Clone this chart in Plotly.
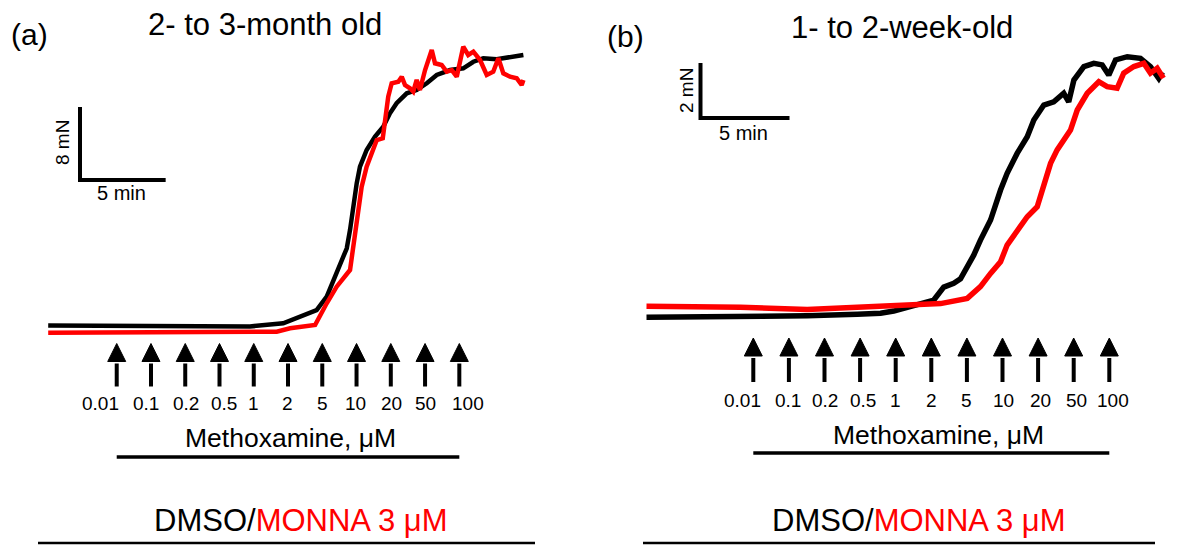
import plotly.graph_objects as go

W, H = 1179, 545

# ---------------- data ----------------
# Panel (a): 2- to 3-month old ; time in min, force in mN
A_TIME_BLACK = [0.0, 4.0, 8.0, 11.78, 13.72, 14.70, 15.67, 16.26, 16.84, 17.43, 17.62, 17.81, 18.01, 18.20,
                18.59, 19.08, 19.56, 19.95, 20.34, 20.93, 21.51, 22.10, 22.68, 23.46, 24.23, 24.82, 25.40,
                26.18, 26.96, 27.74]
A_FORCE_BLACK = [0.05, 0.0, 0.0, -0.05, 0.30, 1.02, 1.75, 3.21, 5.78, 8.52, 10.52, 13.45, 15.64, 17.46,
                 19.29, 20.75, 21.84, 23.31, 24.41, 25.50, 25.86, 26.60, 27.51, 28.05, 28.24, 28.96, 29.34,
                 29.23, 29.51, 29.70]
A_TIME_RED = [0.0, 4.0, 8.0, 11.78, 13.34, 14.12, 15.58, 16.26, 16.84, 17.62, 17.81, 18.01, 18.30, 18.59,
              18.88, 19.18, 19.53, 19.66, 19.85, 20.05, 20.44, 20.64, 20.83, 21.12, 21.31, 21.51, 21.70,
              22.00, 22.39, 22.58, 22.97, 23.26, 23.56, 23.85, 24.23, 24.52, 24.82, 25.21, 25.60, 25.98,
              26.28, 26.57, 26.96, 27.35, 27.64, 27.74]
A_FORCE_RED = [-0.75, -0.72, -0.70, -0.62, -0.62, -0.25, 0.11, 2.49, 4.31, 6.14, 8.69, 11.98, 15.27, 17.46,
               18.93, 20.38, 20.57, 22.21, 25.13, 26.60, 26.77, 27.32, 26.41, 26.05, 25.68, 26.96, 25.86,
               28.05, 30.25, 28.79, 28.60, 27.87, 28.05, 27.32, 30.61, 29.70, 30.06, 29.15, 27.51, 27.87,
               29.34, 27.69, 27.32, 27.15, 26.41, 26.96]
A_ADD_TIMES = [4, 6, 8, 10, 12, 14, 16, 18, 20, 22, 24]

# Panel (b): 1- to 2-week-old
B_TIME_BLACK = [0.0, 3.03, 5.28, 9.03, 11.84, 13.15, 13.89, 15.58, 16.14, 16.70, 17.26, 17.64, 18.02, 18.39,
                18.76, 19.33, 19.89, 20.26, 20.83, 21.39, 21.76, 22.32, 22.88, 23.44, 23.72, 24.01, 24.57,
                25.13, 25.60, 25.97, 26.35, 27.01, 27.75, 28.31, 28.78, 28.99]
B_FORCE_BLACK = [-0.05, -0.04, -0.03, 0.01, 0.06, 0.10, 0.18, 0.46, 0.58, 1.05, 1.19, 1.35, 1.78, 2.22,
                 2.76, 3.49, 4.58, 5.19, 5.92, 6.52, 7.13, 7.67, 7.79, 8.10, 7.79, 8.58, 9.07,
                 9.19, 9.13, 8.76, 9.31, 9.43, 9.37, 9.07, 8.64, 8.87]
B_TIME_RED = [0.0, 3.03, 5.28, 9.03, 12.77, 15.58, 16.52, 18.02, 18.76, 19.33, 19.89, 20.26, 20.83, 21.39,
              21.95, 22.32, 22.70, 23.07, 23.44, 23.82, 24.20, 24.76, 25.41, 25.88, 26.44, 26.81, 27.38,
              27.94, 28.31, 28.69, 29.04]
B_FORCE_RED = [0.35, 0.33, 0.32, 0.24, 0.34, 0.42, 0.45, 0.64, 1.07, 1.55, 1.97, 2.58, 3.13, 3.61,
               3.97, 4.70, 5.55, 6.04, 6.40, 6.76, 7.49, 8.10, 8.52, 8.34, 8.28, 8.83, 9.07,
               9.19, 8.83, 9.01, 8.65]
B_ADD_TIMES = [6, 8, 10, 12, 14, 16, 18, 20, 22, 24, 26]

CONCENTRATIONS = ["0.01", "0.1", "0.2", "0.5", "1", "2", "5", "10", "20", "50", "100"]
SCALE_A = (5, 8)   # min, mN
SCALE_B = (5, 2)   # min, mN
TITLE_A = "2- to 3-month old"
TITLE_B = "1- to 2-week-old"

# ---------------- layout geometry ----------------
FONT = "Arial, Liberation Sans, sans-serif"
BLACK, RED = "#000000", "#ff0000"

# pixel mapping of each panel (x0 px of t=0, px per min, y px of F=0, px per mN)
PA = dict(x0=48.2, kx=17.13, y0=326.0, ky=9.125, px_lo=0, px_hi=589.5)
PB = dict(x0=646.5, kx=17.8, y0=316.0, ky=27.5, px_lo=589.5, px_hi=1179)


def t_of(p, px):
    return (px - p["x0"]) / p["kx"]


def f_of(p, py):
    return (p["y0"] - py) / p["ky"]


fig = go.Figure()


def add_panel(p, xa, ya, tb, fb, tr, fr, adds, scale, lw, corner_px, arrow_px, label_y, lab_off,
              line_y):
    # traces
    fig.add_trace(go.Scatter(x=tb, y=fb, mode="lines", line=dict(color=BLACK, width=lw),
                             xaxis=xa, yaxis=ya, hoverinfo="skip"))
    fig.add_trace(go.Scatter(x=tr, y=fr, mode="lines", line=dict(color=RED, width=lw),
                             xaxis=xa, yaxis=ya, hoverinfo="skip"))
    # arrows
    top, base, bot = arrow_px
    hw = 9.0 / p["kx"]
    sx, sy, hx, hy = [], [], [], []
    for t in adds:
        sx += [t, t, None]
        sy += [f_of(p, bot), f_of(p, base + 2), None]
        hx += [t - hw, t + hw, t, t - hw, None]
        hy += [f_of(p, base), f_of(p, base), f_of(p, top), f_of(p, base), None]
    fig.add_trace(go.Scatter(x=sx, y=sy, mode="lines", line=dict(color=BLACK, width=4),
                             xaxis=xa, yaxis=ya, hoverinfo="skip"))
    fig.add_trace(go.Scatter(x=hx, y=hy, mode="lines", fill="toself", fillcolor=BLACK,
                             line=dict(color=BLACK, width=1), xaxis=xa, yaxis=ya, hoverinfo="skip"))
    # underline below "Methoxamine"
    fig.add_trace(go.Scatter(x=[adds[0], adds[-1]], y=[f_of(p, line_y)] * 2, mode="lines",
                             line=dict(color=BLACK, width=3.5), xaxis=xa, yaxis=ya, hoverinfo="skip"))
    # scale bar
    cx, cy = t_of(p, corner_px[0]), f_of(p, corner_px[1])
    fig.add_trace(go.Scatter(x=[cx, cx, cx + scale[0]], y=[cy + scale[1], cy, cy], mode="lines",
                             line=dict(color=BLACK, width=4), xaxis=xa, yaxis=ya, hoverinfo="skip"))
    # concentration labels
    for t, lab, off in zip(adds, CONCENTRATIONS, lab_off):
        fig.add_annotation(x=t, y=f_of(p, label_y), xref=xa, yref=ya, text=lab, showarrow=False,
                           xshift=off, font=dict(family=FONT, size=19, color=BLACK),
                           xanchor="center", yanchor="middle")


add_panel(PA, "x", "y", A_TIME_BLACK, A_FORCE_BLACK, A_TIME_RED, A_FORCE_RED, A_ADD_TIMES, SCALE_A,
          4.5, (80, 180), (343.5, 361.5, 386.5), 403, [-16, -5, 1, 4, 0, -1, 0, -1, 1, 0, 9], 457)
add_panel(PB, "x2", "y2", B_TIME_BLACK, B_FORCE_BLACK, B_TIME_RED, B_FORCE_RED, B_ADD_TIMES, SCALE_B,
          5.5, (700.5, 118), (338, 356, 382), 400, [-11, -1, 0, 3, 0, 0, 0, 1, 2, 3, 4], 453)


def txt(px, py, text, size, color=BLACK, angle=0):
    fig.add_annotation(x=px / W, y=1 - py / H, xref="paper", yref="paper", text=text, showarrow=False,
                       textangle=angle, font=dict(family=FONT, size=size, color=color),
                       xanchor="center", yanchor="middle")


# panel (a) texts
txt(30, 34, "(a)", 30)
txt(265, 25, TITLE_A, 31)
txt(62, 143, "8 mN", 19, angle=-90)
txt(121, 193, "5 min", 20)
txt(290, 438, "Methoxamine, μM", 26.5)
txt(300, 520, "DMSO/<span style='color:#ff0000'>MONNA 3 μM</span>", 31)
# panel (b) texts
txt(625, 36, "(b)", 30)
txt(902, 27, TITLE_B, 31)
txt(686, 91, "2 mN", 19, angle=-90)
txt(743, 133, "5 min", 20)
txt(938, 435, "Methoxamine, μM", 26.5)
txt(918, 520, "DMSO/<span style='color:#ff0000'>MONNA 3 μM</span>", 31)

# bottom rules
for x0, x1 in [(38, 535), (643, 1155)]:
    fig.add_shape(type="line", xref="paper", yref="paper", x0=x0 / W, x1=x1 / W,
                  y0=1 - 543 / H, y1=1 - 543 / H, line=dict(color=BLACK, width=2.5))


def rng_x(p):
    return [t_of(p, p["px_lo"]), t_of(p, p["px_hi"])]


def rng_y(p):
    return [f_of(p, H), f_of(p, 0)]


ax_common = dict(visible=False, showgrid=False, zeroline=False, fixedrange=True)
fig.update_layout(
    width=W, height=H, margin=dict(l=0, r=0, t=0, b=0),
    paper_bgcolor="white", plot_bgcolor="white", showlegend=False,
    xaxis=dict(domain=[0, PA["px_hi"] / W], range=rng_x(PA), **ax_common),
    yaxis=dict(domain=[0, 1], range=rng_y(PA), **ax_common),
    xaxis2=dict(domain=[PB["px_lo"] / W, 1], range=rng_x(PB), anchor="y2", **ax_common),
    yaxis2=dict(domain=[0, 1], range=rng_y(PB), anchor="x2", **ax_common),
)

fig.write_html("out.html", config={"displayModeBar": False},
               post_script="document.body.style.margin='0';document.body.style.padding='0';"
                           "document.body.style.overflow='hidden';")
